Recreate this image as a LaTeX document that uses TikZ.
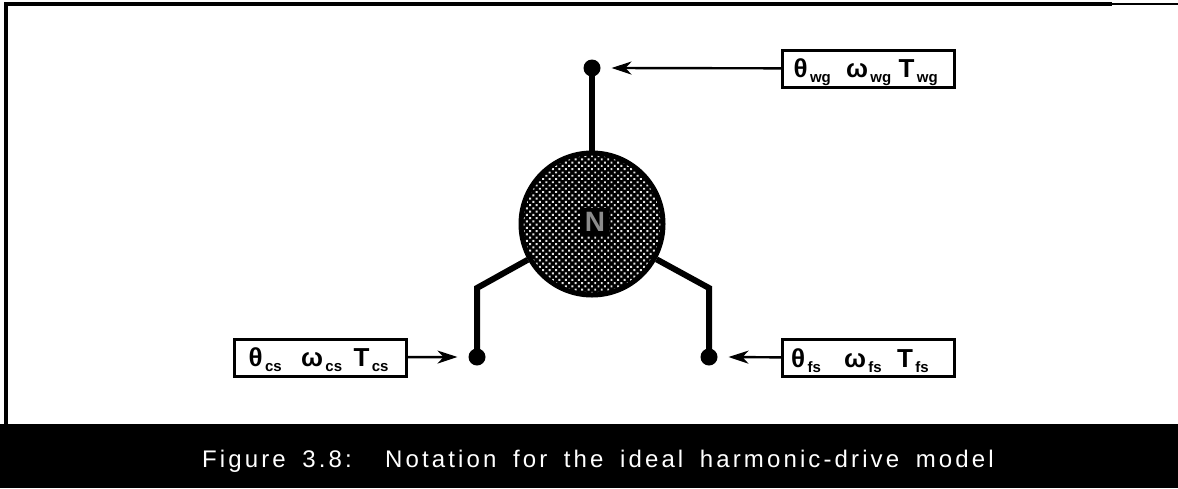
\documentclass[tikz,border=0pt]{standalone}
\usepackage{amsmath, amssymb}
\usepackage{fontspec}
\setmainfont{Liberation Sans}
\newfontfamily\captionfont[LetterSpace=13,WordSpace=1.7]{Liberation Sans}
\usepackage{tikz}
\usetikzlibrary{arrows.meta, positioning, patterns.meta}
\newcommand{\sbs}[1]{\smash{\raisebox{-5pt}{\fontsize{15}{15}\selectfont\bfseries #1}}}
\newcommand{\slot}[2]{\makebox[#1pt][l]{#2}}
\begin{document}
\begin{tikzpicture}[
    x=1pt, y=-1pt,
    signal/.style={rectangle, draw=black, line width=3pt, fill=white, minimum width=172pt, minimum height=37pt, inner sep=0pt, align=left, text height=18pt, text depth=0pt, font=\fontsize{26}{28}\selectfont\bfseries},
    port/.style={circle, fill=black, minimum size=17pt, inner sep=0pt, outer sep=-1pt},
    wheel/.style={circle, draw=black, line width=5pt, preaction={fill=black}, pattern={Dots[distance=4.6pt, radius=1.4pt, angle=45]}, pattern color=white!90!black, minimum size=142pt, inner sep=0pt},
    shaft/.style={line width=6pt, line join=miter},
    frameline/.style={draw=black, line width=4pt},
    arrow/.style={line width=2.4pt, -{Stealth[length=20pt, width=13pt, inset=6pt]}}
]
\useasboundingbox (0,0) rectangle (1178,488);

% Frame and caption
\coordinate (cornerbottom) at (5.5,424);
\coordinate (corner) at (5.5,4);
\coordinate (cornerright) at (1112,4);
\coordinate (cornerend) at (1178,4);
\draw [frameline] (cornerbottom) -- (corner) -- (cornerright);
\draw [draw=black, line width=2pt] (cornerright) -- (cornerend);
\node (bar) [fill=black, minimum width=1178pt, minimum height=64pt, inner sep=0pt] at (589,456) {};
\node (caption) [text=white, font=\captionfont\fontsize{24}{26}\selectfont] at (598,461) {Figure 3.8:\ \ Notation for the ideal harmonic-drive model};

% Nodes
\node (top) [port] at (592,68) {};
\node (left) [port] at (477,357) {};
\node (right) [port] at (709,357) {};
\node (hub) [wheel] at (592,224) {};
\node (ratio) [fill=black, text=black!45, inner sep=4pt, font=\fontsize{28}{30}\selectfont\bfseries] at (595,222) {N};

\node (wg) [signal] at (868.5,68.5) {\slot{52.5}{θ\sbs{\,wg}}\slot{52.5}{ω\sbs{\,wg}}\slot{45}{T\sbs{\,wg}}};
\node (fs) [signal] at (868.5,358) {\slot{53}{θ\sbs{\,fs}}\slot{53}{ω\sbs{\,fs}}\slot{49}{T\sbs{\,fs}}};
\node (cs) [signal] at (320.5,357.5) {\slot{52.5}{θ\sbs{\,cs}}\slot{52.5}{ω\sbs{\,cs}}\slot{39}{T\sbs{\,cs}}};

\coordinate (elbowleft) at (477,288);
\coordinate (elbowright) at (709,288);

% Connectors
\draw [shaft] (hub) -- (top);
\draw [shaft] (hub) -- (elbowleft) -- (left);
\draw [shaft] (hub) -- (elbowright) -- (right);

\draw [arrow] (wg) -- ([xshift=12pt]top.east);
\draw [arrow] (fs) -- ([xshift=12pt]right.east);
\draw [arrow] (cs) -- ([xshift=-12pt]left.west);

\end{tikzpicture}
\end{document}
